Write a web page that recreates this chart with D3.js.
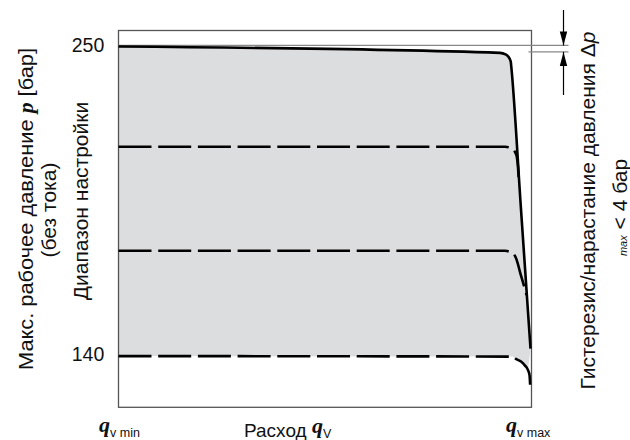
<!DOCTYPE html>
<html><head><meta charset="utf-8">
<script src="https://cdn.jsdelivr.net/npm/d3@7"></script>
<style>body{margin:0;background:#fff} svg{display:block}</style>
</head><body><svg id="c" width="630" height="440"></svg>
<script>
// ---- data ----
const pressureTicks = [250, 140];                 // labelled pressures [bar]
const hysteresisLevels = [250.4, 248.1];          // Δp reference lines
// curves: [flow (0 = q_v min, 100 = q_v max), pressure in bar]
const maxCurve = [[0,250],[92.37,247.76],[93.70,247.23],[94.67,245.81],[94.99,244.49],[95.08,243.25],[97.42,192.96],[99.76,142.66]];
const curve214 = [[0,214.4],[93.58,214.39],[95.04,213.82],[96.1,212.26],[96.44,210.87],[96.71,207.5],[96.88,203.56]];
const curve177 = [[0,177.42],[93.58,177.42],[95.04,176.85],[96.1,175.29],[96.63,173.16],[97.22,169.85],[98.06,165.58],[98.81,161.67]];
const curve140 = [[0,140],[95.28,139.82],[96.42,138.83],[97.46,138.05],[98.43,136.62],[99.15,135.02],[99.52,133.24],[99.69,129.2]];
const dashedCurves = [curve214, curve177, curve140];

// ---- layout ----
const svg = d3.select('#c');
const x = d3.scaleLinear().domain([0, 100]).range([118.5, 531.5]);
const y = d3.scaleLinear().domain([121.8, 255.7]).range([407.3, 30.5]);
const line = d3.line().x(d => x(d[0])).y(d => y(d[1])).curve(d3.curveMonotoneX);
const sans = "'Liberation Sans', Arial, sans-serif";
const serif = "'Liberation Serif', 'Times New Roman', serif";

// fill region between the max curve and the lowest setting curve
const bottomEdge = curve140.filter(d => d[1] > 134).slice().reverse();
const fillPath = line(maxCurve) + 'L' + line(bottomEdge).slice(1) + 'Z';
svg.append('path').attr('d', fillPath).attr('fill', '#dcdddf').attr('stroke', 'none');

// frame
svg.append('rect').attr('x', x(0)).attr('y', y(255.7)).attr('width', x(100) - x(0)).attr('height', y(121.8) - y(255.7))
  .attr('fill', 'none').attr('stroke', '#555').attr('stroke-width', 1.3);

// hysteresis reference lines
svg.append('line').attr('x1', x(0)).attr('x2', x(100) + 37).attr('y1', y(hysteresisLevels[0])).attr('y2', y(hysteresisLevels[0]))
  .attr('stroke', '#888').attr('stroke-width', 1.2);
svg.append('line').attr('x1', x(100) - 3).attr('x2', x(100) + 37).attr('y1', y(hysteresisLevels[1])).attr('y2', y(hysteresisLevels[1]))
  .attr('stroke', '#888').attr('stroke-width', 1.2);

// dashed setting curves
dashedCurves.forEach(c => {
  svg.append('path').attr('d', line(c)).attr('fill', 'none').attr('stroke', '#000')
    .attr('stroke-width', 2.6).attr('stroke-dasharray', '33,6.7');
});
// solid max curve
svg.append('path').attr('d', line(maxCurve)).attr('fill', 'none').attr('stroke', '#000').attr('stroke-width', 2.6);

// Δp arrows
const ax = x(100) + 32;
const yTop = y(hysteresisLevels[0]), yBot = y(hysteresisLevels[1]);
svg.append('line').attr('x1', ax).attr('x2', ax).attr('y1', 10).attr('y2', yTop).attr('stroke', '#000').attr('stroke-width', 1.2);
svg.append('line').attr('x1', ax).attr('x2', ax).attr('y1', yBot).attr('y2', 95).attr('stroke', '#000').attr('stroke-width', 1.2);
svg.append('path').attr('d', `M${ax},${yTop}L${ax-3.7},${yTop-14}L${ax+3.7},${yTop-14}Z`).attr('fill', '#000');
svg.append('path').attr('d', `M${ax},${yBot}L${ax-3.7},${yBot+14}L${ax+3.7},${yBot+14}Z`).attr('fill', '#000');

// tick labels
svg.selectAll('text.tick').data(pressureTicks).enter().append('text').attr('class', 'tick')
  .attr('x', 104.3).attr('y', d => y(d) + 5).attr('text-anchor', 'end')
  .attr('font-family', sans).attr('font-size', 19.5).attr('fill', '#111').text(d => d);

// rotated labels
function rot(xp, yp, size) {
  return svg.append('text').attr('transform', `translate(${xp},${yp}) rotate(-90)`).attr('text-anchor', 'middle')
    .attr('font-family', sans).attr('font-size', size).attr('fill', '#111');
}
let t = rot(33, 209, 20).attr('textLength', 322).attr('lengthAdjust', 'spacingAndGlyphs');
t.append('tspan').text('Макс. рабочее давление ');
t.append('tspan').attr('font-family', serif).attr('font-style', 'italic').attr('font-weight', 'bold').text('p');
t.append('tspan').text(' [бар]');
rot(56, 210, 21).text('(без тока)');
rot(88, 201, 21).text('Диапазон настройки');
t = rot(595, 210.5, 21);
t.append('tspan').text('Гистерезис/нарастание давления Δ');
t.append('tspan').attr('font-style', 'italic').text('p');
t = rot(627, 207.5, 21);
t.append('tspan').attr('font-style', 'italic').attr('font-size', 11).text('max');
t.append('tspan').text(' < 4 бар');

// bottom labels
function qLabel(xp, sub, subSize) {
  const tt = svg.append('text').attr('x', xp).attr('y', 432).attr('font-family', sans).attr('fill', '#111');
  tt.append('tspan').attr('font-family', serif).attr('font-style', 'italic').attr('font-weight', 'bold').attr('font-size', 22).text('q');
  tt.append('tspan').attr('font-size', subSize).attr('dy', 5).text(sub);
  return tt;
}
qLabel(99, 'v min', 12.5);
qLabel(506, 'v max', 12.5);
t = svg.append('text').attr('x', 244).attr('y', 436.7).attr('font-family', sans).attr('font-size', 19).attr('fill', '#111');
t.append('tspan').text('Расход ');
t.append('tspan').attr('font-family', serif).attr('font-style', 'italic').attr('font-weight', 'bold').attr('font-size', 22).attr('dy', -4).text('q');
t.append('tspan').attr('font-size', 12.5).attr('dy', 5).text('V');
</script></body></html>
